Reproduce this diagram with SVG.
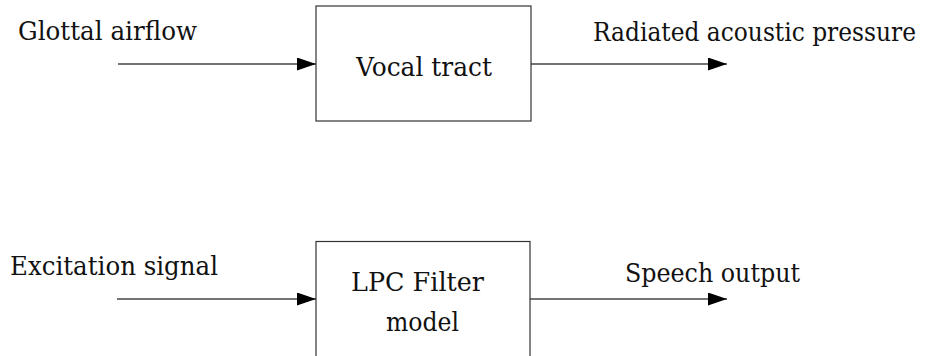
<svg xmlns="http://www.w3.org/2000/svg" width="925" height="356" viewBox="0 0 925 356">
<style>
text{font-family:"DejaVu Serif","Liberation Serif",serif;font-size:26px;fill:#111}
.box{fill:#fff;stroke:#333;stroke-width:1.2}
.conn{stroke:#444;stroke-width:1.4;fill:none}
</style>
<defs>
<marker id="ah" markerUnits="userSpaceOnUse" markerWidth="20" markerHeight="14" refX="19" refY="6.5" orient="auto">
<path d="M0,0 L19,6.5 L0,13 Z" fill="#000"/>
</marker>
</defs>
<rect width="925" height="356" fill="#fff"/>
<g id="connectors">
<line class="conn" x1="118" y1="64" x2="316" y2="64" marker-end="url(#ah)"/>
<line class="conn" x1="531" y1="64" x2="727" y2="64" marker-end="url(#ah)"/>
<line class="conn" x1="117" y1="299" x2="316" y2="299" marker-end="url(#ah)"/>
<line class="conn" x1="530" y1="299" x2="727" y2="299" marker-end="url(#ah)"/>
</g>
<g id="vocal-tract">
<rect class="box" x="316" y="6" width="215" height="115"/>
<text x="356" y="76" textLength="136" lengthAdjust="spacingAndGlyphs">Vocal tract</text>
</g>
<g id="lpc-filter">
<rect class="box" x="316" y="241.5" width="214" height="130"/>
<text x="351" y="291" textLength="133" lengthAdjust="spacingAndGlyphs">LPC Filter</text>
<text x="386" y="331" textLength="73" lengthAdjust="spacingAndGlyphs">model</text>
</g>
<g id="labels">
<text x="18" y="40" textLength="179" lengthAdjust="spacingAndGlyphs">Glottal airflow</text>
<text x="593" y="41" textLength="323" lengthAdjust="spacingAndGlyphs">Radiated acoustic pressure</text>
<text x="10" y="275" textLength="208" lengthAdjust="spacingAndGlyphs">Excitation signal</text>
<text x="625" y="282" textLength="175" lengthAdjust="spacingAndGlyphs">Speech output</text>
</g>
</svg>
